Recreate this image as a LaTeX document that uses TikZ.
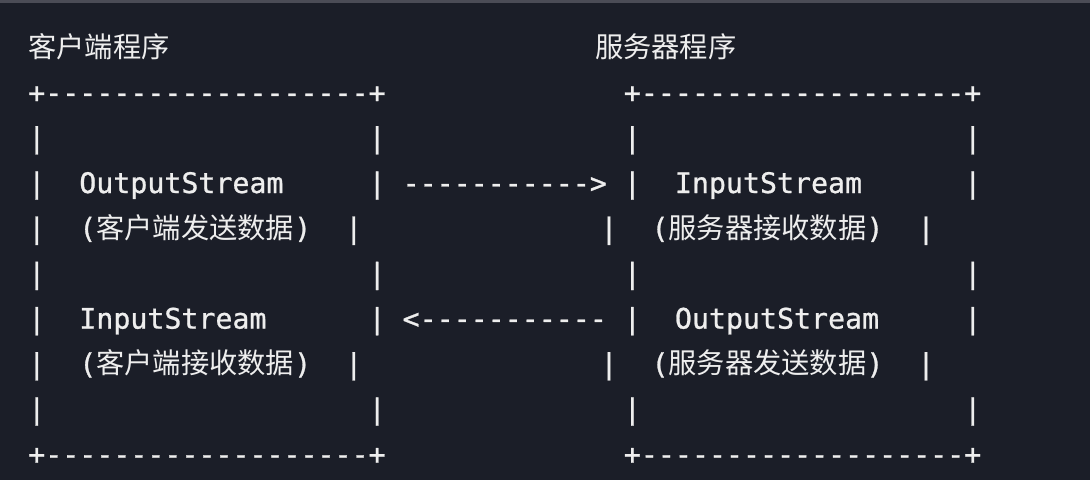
\documentclass[tikz,border=0pt]{standalone}
\usepackage{fontspec}
\setmonofont{DejaVu Sans Mono}[FakeBold=0.9]
\newfontfamily\cjk{Noto Sans CJK SC}
\definecolor{bg}{HTML}{1B1E28}
\definecolor{bar}{HTML}{4B4C56}
\definecolor{ink}{HTML}{EEEEEE}
% blanks of one mono cell each, and chinese runs
\newcommand\gap[1]{\hspace*{#1\fontcharwd\font`0}}
\newcommand\cn[1]{{\cjk #1}}

\begin{document}
\begin{tikzpicture}[x=0.75pt,y=-0.75pt,
  line/.style={anchor=base west,inner sep=0pt,text=ink,
    font=\fontsize{21.2}{26}\selectfont\ttfamily}]
\fill[bg] (0,0) rectangle (1090,480);
\fill[bar] (0,0) rectangle (1090,3);
\useasboundingbox (0,0) rectangle (1090,480);

% titles
\node[line] (title) at (28,57.4) {\cn{客户端程序}\gap{25}\cn{服务器程序}};

% box tops
\node[line] (top) at (28,102.6) {+-------------------+\gap{14}+-------------------+};
\node[line] (blankA) at (28,147.8) {|\gap{19}|\gap{14}|\gap{19}|};

% client sends, server receives
\node[line] (send) at (28,193.0) {|\gap{2}OutputStream\gap{5}|\gap{1}----------->\gap{1}|\gap{2}InputStream\gap{6}|};
\node[line] (sendcn) at (28,238.2) {|\gap{2}(\cn{客户端发送数据})\gap{2}|\gap{14}|\gap{2}(\cn{服务器接收数据})\gap{2}|};
\node[line] (blankB) at (28,283.4) {|\gap{19}|\gap{14}|\gap{19}|};

% server sends, client receives
\node[line] (recv) at (28,328.6) {|\gap{2}InputStream\gap{6}|\gap{1}<-----------\gap{1}|\gap{2}OutputStream\gap{5}|};
\node[line] (recvcn) at (28,373.8) {|\gap{2}(\cn{客户端接收数据})\gap{2}|\gap{14}|\gap{2}(\cn{服务器发送数据})\gap{2}|};
\node[line] (blankC) at (28,419.0) {|\gap{19}|\gap{14}|\gap{19}|};

% box bottoms
\node[line] (bottom) at (28,464.2) {+-------------------+\gap{14}+-------------------+};
\end{tikzpicture}
\end{document}
